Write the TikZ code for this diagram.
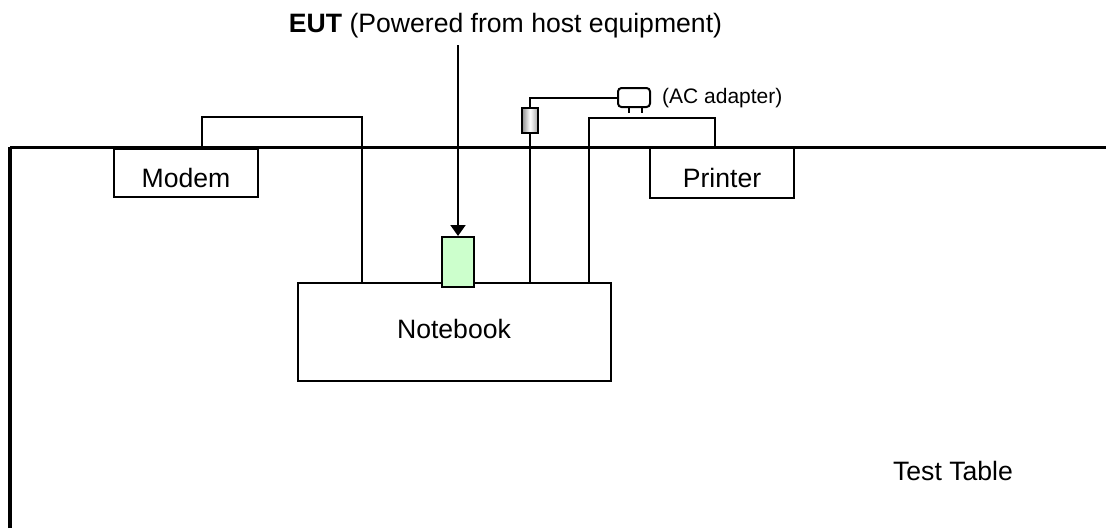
\documentclass[tikz,border=0pt]{standalone}
\usepackage{fontspec}
\setmainfont{Liberation Sans}
\usetikzlibrary{arrows.meta}
\newcommand{\lowered}[2]{\raisebox{-#1pt}[0pt][0pt]{#2}}
\tikzset{
  wire/.style={draw=black,line width=2pt},
  tableedge/.style={draw=black,line width=3pt},
  unit/.style={draw=black,line width=2pt,fill=white,inner sep=0pt,font=\fontsize{26.6}{30}\selectfont},
  plainlabel/.style={inner sep=0pt,font=\fontsize{26.6}{30}\selectfont},
  smalllabel/.style={inner sep=0pt,anchor=west,font=\fontsize{21}{25}\selectfont},
}
\begin{document}
\begin{tikzpicture}[x=1pt,y=-1pt]
\useasboundingbox (0,0) rectangle (1106,528);
% table edge
\coordinate (tl) at (10,147);
\coordinate (tr) at (1106,147);
\coordinate (bl) at (10,528);
\draw[tableedge,line width=3.5pt] (bl) -- (tl);
\draw[tableedge] (tl) -- (tr);
% boxes
\node[unit,minimum width=144pt,minimum height=48pt] (modem) at (186,173) {\lowered{14}{Modem}};
\node[unit,minimum width=144pt,minimum height=50pt] (printer) at (722,173) {\lowered{14}{Printer}};
\node[unit,minimum width=313pt,minimum height=98pt] (notebook) at (454,332) {\lowered{6}{Notebook}};
\node[draw=black,line width=2pt,fill=green!20,minimum width=32pt,minimum height=50pt,inner sep=0pt] (eut) at (458,262) {};
% wires
\coordinate (mw) at (202,117);
\coordinate (me) at (362,117);
\draw[wire] (mw |- modem.north) -- (mw) -- (me) -- (me |- notebook.north);
\coordinate (pw) at (588.5,118);
\coordinate (pe) at (715,118);
\draw[wire] (pw |- notebook.north) -- (pw) -- (pe) -- (pe |- printer.north);
% AC adapter chain
\node[draw=black,line width=2pt,minimum width=16pt,minimum height=25pt,inner sep=0pt,left color=gray!90,right color=gray!70,middle color=white] (plug) at (530,120.5) {};
\draw[wire] (plug.south) -- (plug.south |- notebook.north);
\node[draw=black,line width=2pt,rounded corners=3.5pt,fill=white,minimum width=32pt,minimum height=19pt,inner sep=0pt] (adapter) at (634,97.5) {};
\coordinate (bend) at (530,98);
\draw[wire] (plug.north) -- (bend) -- (adapter.west |- bend);
\coordinate (p1) at (629,113);
\coordinate (p2) at (642,113);
\draw[wire,line width=1.5pt] (p1 |- adapter.south) -- (p1);
\draw[wire,line width=1.5pt] (p2 |- adapter.south) -- (p2);
\node[smalllabel] (aclabel) at (662,96) {\lowered{7}{(AC adapter)}};
% EUT label and arrow
\node[plainlabel] (eutlabel) at (505.5,28) {\lowered{4.3}{\textbf{EUT} (Powered from host equipment)}};
\coordinate (arrowtop) at (458,45);
\draw[wire,-{Triangle[length=11pt,width=15pt]}] (arrowtop) -- (eut.north);
% text
\node[plainlabel] (tablelabel) at (953,472) {\lowered{8}{Test Table}};
\end{tikzpicture}
\end{document}
